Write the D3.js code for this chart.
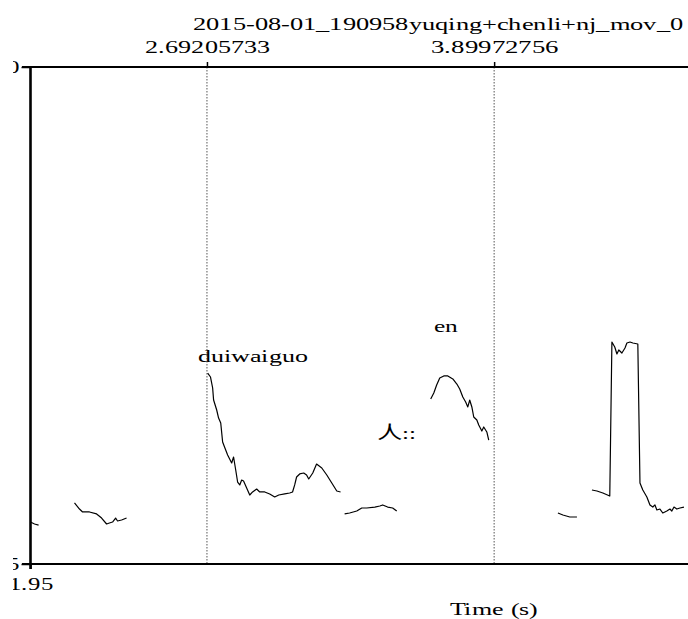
<!DOCTYPE html>
<html><head><meta charset="utf-8">
<script src="https://cdn.jsdelivr.net/npm/d3@7"></script>
<style>
@font-face { font-family: "TimesLocal"; src: local("Liberation Serif"), local("LiberationSerif"), local("LiberationSerif-Regular"), local("Times New Roman"), local("Tinos"), local("Nimbus Roman"); }
body{margin:0;background:#fff} svg{display:block}
</style>
</head><body>
<script>
// ---------- data ----------
const title = "2015-08-01_190958yuqing+chenli+nj_mov_0";
const xLabel = "Time (s)";
const timeDomain = [1.95, 4.715];
const pitchDomain = [75, 500];
const yTickValues = [75, 500];
const bottomTickValues = [1.95];
const topTickValues = [2.69205733, 3.89972756];

// pitch contour segments: [time (s), F0 (Hz)]
const seg1 = [[1.950,110.9],[1.967,109.2],[1.984,108.3]];
const seg2 = [[2.135,127.2],[2.156,122.0],[2.169,119.5],[2.198,119.5],[2.228,117.8],[2.249,114.3],
  [2.270,109.2],[2.282,110.1],[2.295,110.9],[2.308,114.3],[2.316,111.8],[2.333,112.6],[2.354,114.3]];
const seg3 = [[2.695,238.3],[2.707,234.9],[2.716,225.5],[2.720,215.2],[2.733,206.7],[2.741,199.8],
  [2.750,195.6],[2.758,179.3],[2.766,175.0],[2.779,168.2],[2.796,161.4],[2.804,166.5],[2.813,155.4],
  [2.821,145.1],[2.830,142.6],[2.838,146.8],[2.846,146.0],[2.859,140.0],[2.872,134.0],[2.884,136.6],
  [2.901,139.1],[2.914,136.6],[2.935,136.6],[2.956,134.9],[2.977,132.3],[2.994,134.0],[3.019,134.9],
  [3.040,135.7],[3.052,136.6],[3.061,142.6],[3.069,149.4],[3.082,152.0],[3.099,152.8],[3.111,151.1],
  [3.120,147.7],[3.137,152.8],[3.153,160.5],[3.175,157.1],[3.196,151.1],[3.217,144.3],[3.238,137.4],
  [3.254,136.6]];
const seg4 = [[3.271,117.8],[3.292,118.6],[3.322,120.3],[3.343,122.9],[3.364,122.9],[3.398,123.7],
  [3.419,124.6],[3.431,125.5],[3.452,123.7],[3.473,122.9],[3.490,120.3]];
const seg5 = [[3.633,216.1],[3.646,221.2],[3.658,228.1],[3.671,234.1],[3.688,235.8],[3.705,235.8],
  [3.726,233.2],[3.743,228.9],[3.755,224.6],[3.768,217.8],[3.780,213.5],[3.789,209.3],[3.797,215.2],
  [3.806,209.3],[3.814,200.7],[3.827,198.1],[3.835,193.9],[3.848,188.7],[3.856,192.2],[3.869,187.9],
  [3.877,181.0]];
const seg6 = [[4.168,118.6],[4.189,116.9],[4.218,115.2],[4.248,115.2]];
const seg7 = [[4.311,138.3],[4.332,137.4],[4.357,135.7],[4.386,133.1],[4.395,264.8],[4.407,260.6],
  [4.416,254.6],[4.424,258.0],[4.437,255.4],[4.450,259.7],[4.458,264.0],[4.471,264.8],[4.483,264.0],
  [4.504,263.1],[4.513,144.3],[4.525,138.3],[4.542,132.3],[4.555,125.5],[4.567,123.7],[4.576,125.5],
  [4.584,121.2],[4.597,122.0],[4.609,118.6],[4.626,120.3],[4.639,122.0],[4.647,120.3],[4.656,123.7],
  [4.668,122.0],[4.681,122.9],[4.698,123.7]];
const pitchSegments = [seg1, seg2, seg3, seg4, seg5, seg6, seg7];

const labelTexts = ["duiwaiguo", "en", "人::"];
const labelTimes = [2.884, 3.696, 3.490];
const labelPitches = [247.7, 273.4, 181.9];

// ---------- drawing ----------
const W = 688, H = 619;
const FONT = "TimesLocal,'Liberation Serif','Times New Roman',Times,'Noto Sans CJK SC',serif";
const FS = 18;

const svg = d3.select("body").append("svg").attr("width", W).attr("height", H)
  .style("font-family", FONT);
svg.append("defs").append("clipPath").attr("id", "cl")
  .append("rect").attr("x", 13).attr("y", 0).attr("width", W - 13).attr("height", H);
const g = svg.append("g").attr("clip-path", "url(#cl)");

const x = d3.scaleLinear().domain(timeDomain).range([30.5, W]);
const y = d3.scaleLinear().domain(pitchDomain).range([564, 67]);

// fit texts to the widths seen in the source picture (its text is horizontally stretched)
function stretchText(sel, widthFn) {
  sel.each(function (d, i) {
    const t = d3.select(this);
    const w = widthFn ? widthFn(t.text(), i) : null;
    if (w) t.attr("textLength", w).attr("lengthAdjust", "spacingAndGlyphs");
  });
}
const knownWidths = {
  "2015-08-01_190958yuqing+chenli+nj_mov_0": 490,
  "2.69205733": 125, "3.89972756": 128, "Time (s)": 88,
  "duiwaiguo": 110, "en": 24, "人::": 39, "1.95": 44, "500": 37.5, "75": 25
};
const wOf = s => knownWidths[s] || null;

// dotted interval boundaries
g.selectAll("line.bound").data(topTickValues).join("line")
  .attr("x1", d => x(d)).attr("x2", d => x(d))
  .attr("y1", y(pitchDomain[1])).attr("y2", y(pitchDomain[0]))
  .attr("stroke", "#555").attr("stroke-width", 1).attr("stroke-dasharray", "1.5,1.5");

// pitch contours
const line = d3.line().x(d => x(d[0])).y(d => y(d[1]));
g.selectAll("path.pitch").data(pitchSegments).join("path")
  .attr("d", line).attr("fill", "none").attr("stroke", "#000").attr("stroke-width", 1.2)
  .attr("stroke-linejoin", "round");

// axes
const yAxis = d3.axisLeft(y).tickValues(yTickValues).tickSize(9).tickPadding(2)
  .tickFormat(d3.format("d"));
const ya = g.append("g").attr("transform", `translate(${x(timeDomain[0])},0)`).call(yAxis);
const bAxis = d3.axisBottom(x).tickValues(bottomTickValues).tickSize(5).tickPadding(8)
  .tickFormat(d3.format(".2f"));
const ba = g.append("g").attr("transform", `translate(0,${y(pitchDomain[0])})`).call(bAxis);
const tAxis = d3.axisTop(x).tickValues(topTickValues).tickSize(5).tickPadding(9)
  .tickFormat(d => d.toFixed(8));
const ta = g.append("g").attr("transform", `translate(0,${y(pitchDomain[1])})`).call(tAxis);
[ya, ba, ta].forEach(a => {
  a.select(".domain").remove();
  a.selectAll("line").attr("stroke", "#000").attr("stroke-width", 1.5);
  a.selectAll("text").attr("fill", "#000").style("font-family", FONT).attr("font-size", FS)
    .call(stretchText, wOf);
});

// frame lines
g.append("line").attr("x1", 22).attr("x2", W).attr("y1", y(pitchDomain[1])).attr("y2", y(pitchDomain[1]))
  .attr("stroke", "#000").attr("stroke-width", 1.8);
g.append("line").attr("x1", 22).attr("x2", W).attr("y1", y(pitchDomain[0])).attr("y2", y(pitchDomain[0]))
  .attr("stroke", "#000").attr("stroke-width", 1.8);
g.append("line").attr("x1", x(timeDomain[0])).attr("x2", x(timeDomain[0]))
  .attr("y1", y(pitchDomain[1])).attr("y2", y(pitchDomain[0]) + 5)
  .attr("stroke", "#000").attr("stroke-width", 2.6);

// title and axis label
g.append("text").attr("x", 438).attr("y", 30).attr("text-anchor", "middle")
  .attr("font-size", FS).text(title).call(stretchText, wOf);
g.append("text").attr("x", 494).attr("y", 615).attr("text-anchor", "middle")
  .attr("font-size", FS).text(xLabel).call(stretchText, wOf);

// interval labels
g.selectAll("text.lab").data(labelTexts).join("text").attr("class", "lab")
  .attr("x", (d, i) => x(labelTimes[i])).attr("y", (d, i) => y(labelPitches[i]))
  .attr("text-anchor", "middle").attr("font-size", FS).text(d => d).call(stretchText, wOf);
</script>
</body></html>
